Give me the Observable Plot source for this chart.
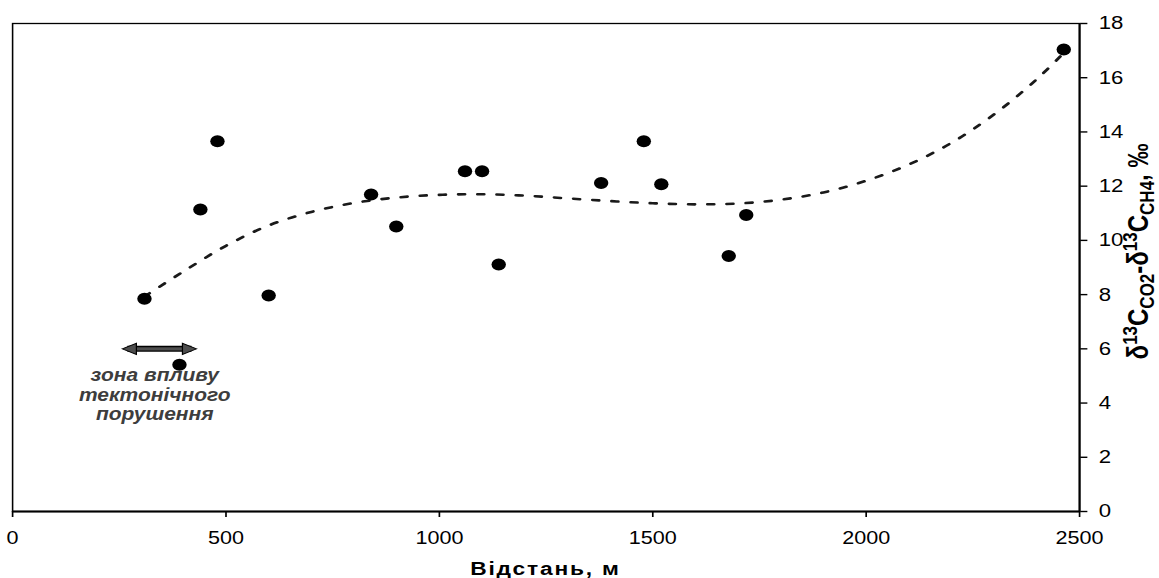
<!DOCTYPE html>
<html>
<head>
<meta charset="utf-8">
<script src="https://cdn.jsdelivr.net/npm/d3@7"></script>
<script src="https://cdn.jsdelivr.net/npm/@observablehq/plot@0.6"></script>
<style>
  html, body { margin: 0; padding: 0; background: #fff; }
  #chart { width: 1159px; height: 578px; overflow: hidden; }
</style>
</head>
<body>
<div id="chart"></div>
<script>
// ---- data ----
const distance  = [309, 391, 440, 480, 600, 840, 899, 1060, 1100, 1139, 1379, 1479, 1520, 1678, 1719, 2463];
const deltaDiff = [7.85, 5.41, 11.14, 13.66, 7.97, 11.69, 10.51, 12.55, 12.55, 9.11, 12.12, 13.66, 12.07, 9.42, 10.94, 17.04];

// polynomial trend line as drawn in the reference
const trendDistance = [309, 400, 500, 600, 700, 800, 900, 1000, 1100, 1200, 1300, 1400, 1500, 1600, 1700, 1800, 1900, 2000, 2100, 2200, 2300, 2400, 2462];
const trendDelta    = [7.93, 8.85, 9.8, 10.55, 11.05, 11.38, 11.58, 11.68, 11.7, 11.65, 11.55, 11.45, 11.37, 11.33, 11.36, 11.5, 11.77, 12.2, 12.8, 13.6, 14.65, 15.95, 16.9];

const xTicks = [0, 500, 1000, 1500, 2000, 2500];
const yTicks = [0, 2, 4, 6, 8, 10, 12, 14, 16, 18];

// annotation: tectonic disturbance zone
const zoneStart = [257];
const zoneEnd   = [431];
const zoneLevel = [6.0];
const zoneLabelX = [333];
const zoneLabelY = [4.32];
const zoneLabelText = ["зона впливу\nтектонічного\nпорушення"];

const xTitle = "Відстань, м";
const yTitleParts = [
  {t: "δ", k: "n"}, {t: "13", k: "sup"}, {t: "C", k: "n"}, {t: "CO2", k: "sub"},
  {t: "-", k: "n"},
  {t: "δ", k: "n"}, {t: "13", k: "sup"}, {t: "C", k: "n"}, {t: "CH4", k: "sub"},
  {t: ", ‰", k: "n"}
];

// ---- build tables ----
const points = distance.map((d, i) => ({x: d, y: deltaDiff[i]}));
const trend = trendDistance.map((d, i) => ({x: d, y: trendDelta[i]}));
const arrows = zoneStart.map((d, i) => ({x1: d, x2: zoneEnd[i], y: zoneLevel[i]}));
const labels = zoneLabelX.map((d, i) => ({x: d, y: zoneLabelY[i], text: zoneLabelText[i]}));

// filled arrow heads with the tip at the origin
const headRight = { draw(ctx, size) { const r = Math.sqrt(size / Math.PI); ctx.moveTo(0, 0); ctx.lineTo(-2.1 * r, -r); ctx.lineTo(-2.1 * r, r); ctx.closePath(); } };
const headLeft  = { draw(ctx, size) { const r = Math.sqrt(size / Math.PI); ctx.moveTo(0, 0); ctx.lineTo(2.1 * r, -r); ctx.lineTo(2.1 * r, r); ctx.closePath(); } };

const W = 966, H = 578, SX = 1159 / W;
const font = "'Liberation Sans', Arial, Helvetica, sans-serif";

const plot = Plot.plot({
  width: W,
  height: H,
  marginLeft: 10,
  marginRight: 66.7,
  marginTop: 23,
  marginBottom: 67,
  style: {fontFamily: font, fontSize: "18px", color: "#000", background: "#fff"},
  x: {domain: [0, 2500]},
  y: {domain: [0, 18]},
  marks: [
    Plot.frame({stroke: "#000", strokeWidth: 1.3}),
    Plot.ruleY([0], {stroke: "#000", strokeWidth: 2}),
    Plot.ruleX([2500], {stroke: "#000", strokeWidth: 1.7}),
    Plot.axisX({ticks: xTicks, tickFormat: d => String(d), tickSize: 6, tickPadding: 14, label: null, strokeWidth: 1.4, fontSize: 18}),
    Plot.axisY({anchor: "right", ticks: yTicks, tickFormat: d => String(d), tickSize: 6, tickPadding: 10, label: null, strokeWidth: 1.4, fontSize: 18.5}),
    Plot.line(trend, {x: "x", y: "y", curve: "catmull-rom", stroke: "#1a1a1a", strokeWidth: 2.6, strokeDasharray: "5.5,10.5"}),
    Plot.dot(points, {x: "x", y: "y", r: 6, fill: "#000", stroke: "none"}),
    Plot.link(arrows, {x1: d => d.x1 + 12, x2: d => d.x2 - 12, y1: "y", y2: "y", stroke: "#000", strokeWidth: 6}),
    Plot.link(arrows, {x1: d => d.x1 + 12, x2: d => d.x2 - 12, y1: "y", y2: "y", stroke: "#4d4d4d", strokeWidth: 3.4}),
    Plot.dot(arrows, {x: "x2", y: "y", symbol: headRight, r: 5.6, fill: "#4d4d4d", stroke: "#000", strokeWidth: 1}),
    Plot.dot(arrows, {x: "x1", y: "y", symbol: headLeft, r: 5.6, fill: "#4d4d4d", stroke: "#000", strokeWidth: 1}),
    Plot.text(labels, {x: "x", y: "y", text: "text", fontSize: 17.5, fontStyle: "italic", fontWeight: "bold", fill: "#3d3d3d", lineHeight: 1.12, lineAnchor: "middle"})
  ]
});

// stretch horizontally as in the reference image
plot.setAttribute("width", 1159);
plot.setAttribute("height", 578);
plot.setAttribute("preserveAspectRatio", "none");
plot.style.width = "1159px";
plot.style.height = "578px";
plot.style.maxWidth = "none";
plot.style.display = "block";

const svg = d3.select(plot);

// x-axis title
svg.append("text")
  .attr("x", (10 + (W - 66.7)) / 2)
  .attr("y", 575)
  .attr("text-anchor", "middle")
  .attr("font-family", font)
  .attr("font-weight", "bold")
  .attr("font-size", 19)
  .attr("letter-spacing", 1.5)
  .attr("fill", "#000")
  .text(xTitle);

// y-axis title with super/subscripts
const yt = svg.append("text")
  .attr("transform", `translate(${1148 / SX},251.5) rotate(-90)`)
  .attr("text-anchor", "middle")
  .attr("font-family", font)
  .attr("font-weight", "bold")
  .attr("font-size", 24)
  .attr("fill", "#000");
let cur = 0;
for (const p of yTitleParts) {
  const target = p.k === "sup" ? -9 : p.k === "sub" ? 5 : 0;
  yt.append("tspan")
    .attr("dy", target - cur)
    .attr("font-size", p.k === "n" ? 24 : 17)
    .text(p.t);
  cur = target;
}

document.getElementById("chart").appendChild(plot);
</script>
</body>
</html>
